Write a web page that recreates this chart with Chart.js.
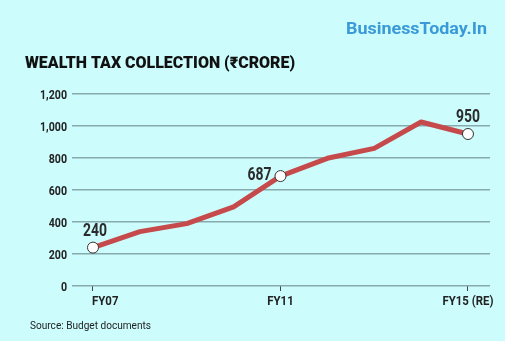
<!DOCTYPE html>
<html>
<head>
<meta charset="utf-8">
<script src="https://cdn.jsdelivr.net/npm/chart.js@4.4.1/dist/chart.umd.min.js"></script>
<style>
  html, body { margin: 0; padding: 0; background: #cdfcfd; }
  canvas { display: block; }
</style>
</head>
<body>
<canvas id="chart" width="505" height="341"></canvas>
<script>
// wealth tax collection, Rs crore
const years = ['FY07', 'FY08', 'FY09', 'FY10', 'FY11', 'FY12', 'FY13', 'FY14', 'FY15 (RE)'];
const collection = [240, 340, 390, 495, 687, 798, 860, 1025, 950];
const labelledYears = [0, 4, 8];
const yTicks = [0, 200, 400, 600, 800, 1000, 1200];

const lineColor = '#c64a4b';
const gridColor = '#86aaad';
const textFont = 'Roboto, "Liberation Sans", sans-serif';

// draw text scaled horizontally by factor sx
function squeezed(ctx, text, x, y, sx, align) {
  ctx.save();
  ctx.translate(x, y);
  ctx.scale(sx, 1);
  ctx.textAlign = align;
  ctx.fillText(text, 0, 0);
  ctx.restore();
}

// factor that makes `sample` come out `width` pixels wide in the current font
function squeezeFor(ctx, sample, width) {
  return width / ctx.measureText(sample).width;
}

// titles, brand and source line
const frameText = {
  id: 'frameText',
  afterDraw(chart) {
    const ctx = chart.ctx;
    ctx.save();
    ctx.textBaseline = 'alphabetic';

    ctx.fillStyle = '#3a9ad8';
    ctx.font = 'bold 17px ' + textFont;
    squeezed(ctx, 'BusinessToday.In', 346, 34, squeezeFor(ctx, 'BusinessToday.In', 141), 'left');

    const title = 'WEALTH TAX COLLECTION (\u20B9CRORE)';
    ctx.fillStyle = '#111';
    ctx.font = '900 16px ' + textFont;
    squeezed(ctx, title, 25, 68, squeezeFor(ctx, title, 270), 'left');

    const source = 'Source: Budget documents';
    ctx.fillStyle = '#222';
    ctx.font = '10px ' + textFont;
    squeezed(ctx, source, 30, 329, squeezeFor(ctx, source, 121), 'left');
    ctx.restore();
  }
};

// tick labels for both axes, narrowed like the printed condensed face
const axisLabels = {
  id: 'axisLabels',
  afterDraw(chart) {
    const ctx = chart.ctx;
    const { x, y } = chart.scales;
    ctx.save();
    ctx.fillStyle = '#222';
    ctx.font = 'bold 12.5px ' + textFont;
    ctx.textBaseline = 'alphabetic';

    const sy = squeezeFor(ctx, '1,200', 27);
    yTicks.forEach(v => {
      squeezed(ctx, v.toLocaleString('en-US'), 67, y.getPixelForValue(v) + 4.5, sy, 'right');
    });

    const sx = squeezeFor(ctx, years[8], 51);
    labelledYears.forEach((i, n) => {
      const px = x.getPixelForValue(i);
      squeezed(ctx, years[i], n === 0 ? px - 1 : px, 305, sx, n === 0 ? 'left' : 'center');
    });
    ctx.restore();
  }
};

// value labels beside the marked points
const valueLabels = {
  id: 'valueLabels',
  afterDatasetsDraw(chart) {
    const ctx = chart.ctx;
    const meta = chart.getDatasetMeta(0);
    const place = {
      0: { dx: 2, dy: -12, align: 'center' },
      4: { dx: -9, dy: 4, align: 'right' },
      8: { dx: 0, dy: -12, align: 'center' }
    };
    ctx.save();
    ctx.font = 'bold 18px ' + textFont;
    ctx.fillStyle = '#2b2b2b';
    ctx.textBaseline = 'alphabetic';
    const s = squeezeFor(ctx, '240', 24);
    labelledYears.forEach(i => {
      const pt = meta.data[i];
      const p = place[i];
      squeezed(ctx, String(collection[i]), pt.x + p.dx, pt.y + p.dy, s, p.align);
    });
    ctx.restore();
  }
};

new Chart(document.getElementById('chart'), {
  type: 'line',
  data: {
    datasets: [{
      data: collection.map((v, i) => ({ x: i, y: v })),
      borderColor: lineColor,
      borderWidth: 5,
      borderJoinStyle: 'round',
      tension: 0,
      clip: false,
      pointRadius: collection.map((v, i) => labelledYears.includes(i) ? 5.5 : 0),
      pointBackgroundColor: '#fff',
      pointBorderColor: '#333',
      pointBorderWidth: 1
    }]
  },
  options: {
    responsive: false,
    animation: false,
    layout: { padding: { top: 94, right: 15, left: 0, bottom: 0 } },
    plugins: { legend: { display: false }, tooltip: { enabled: false } },
    scales: {
      x: {
        type: 'linear',
        min: -0.448,
        max: 8.47,
        afterBuildTicks: s => { s.ticks = labelledYears.map(v => ({ value: v })); },
        afterFit: s => { s.height = 55; },
        ticks: { display: false },
        border: { display: false },
        grid: { drawOnChartArea: false, drawTicks: true, tickLength: 5, color: '#444', lineWidth: 1 }
      },
      y: {
        min: 0,
        max: 1200,
        afterBuildTicks: s => { s.ticks = yTicks.map(v => ({ value: v })); },
        afterFit: s => { s.width = 72; },
        ticks: { display: false },
        border: { display: false },
        grid: { color: gridColor, lineWidth: 1.5, drawTicks: false }
      }
    }
  },
  plugins: [frameText, axisLabels, valueLabels]
});
</script>
</body>
</html>
